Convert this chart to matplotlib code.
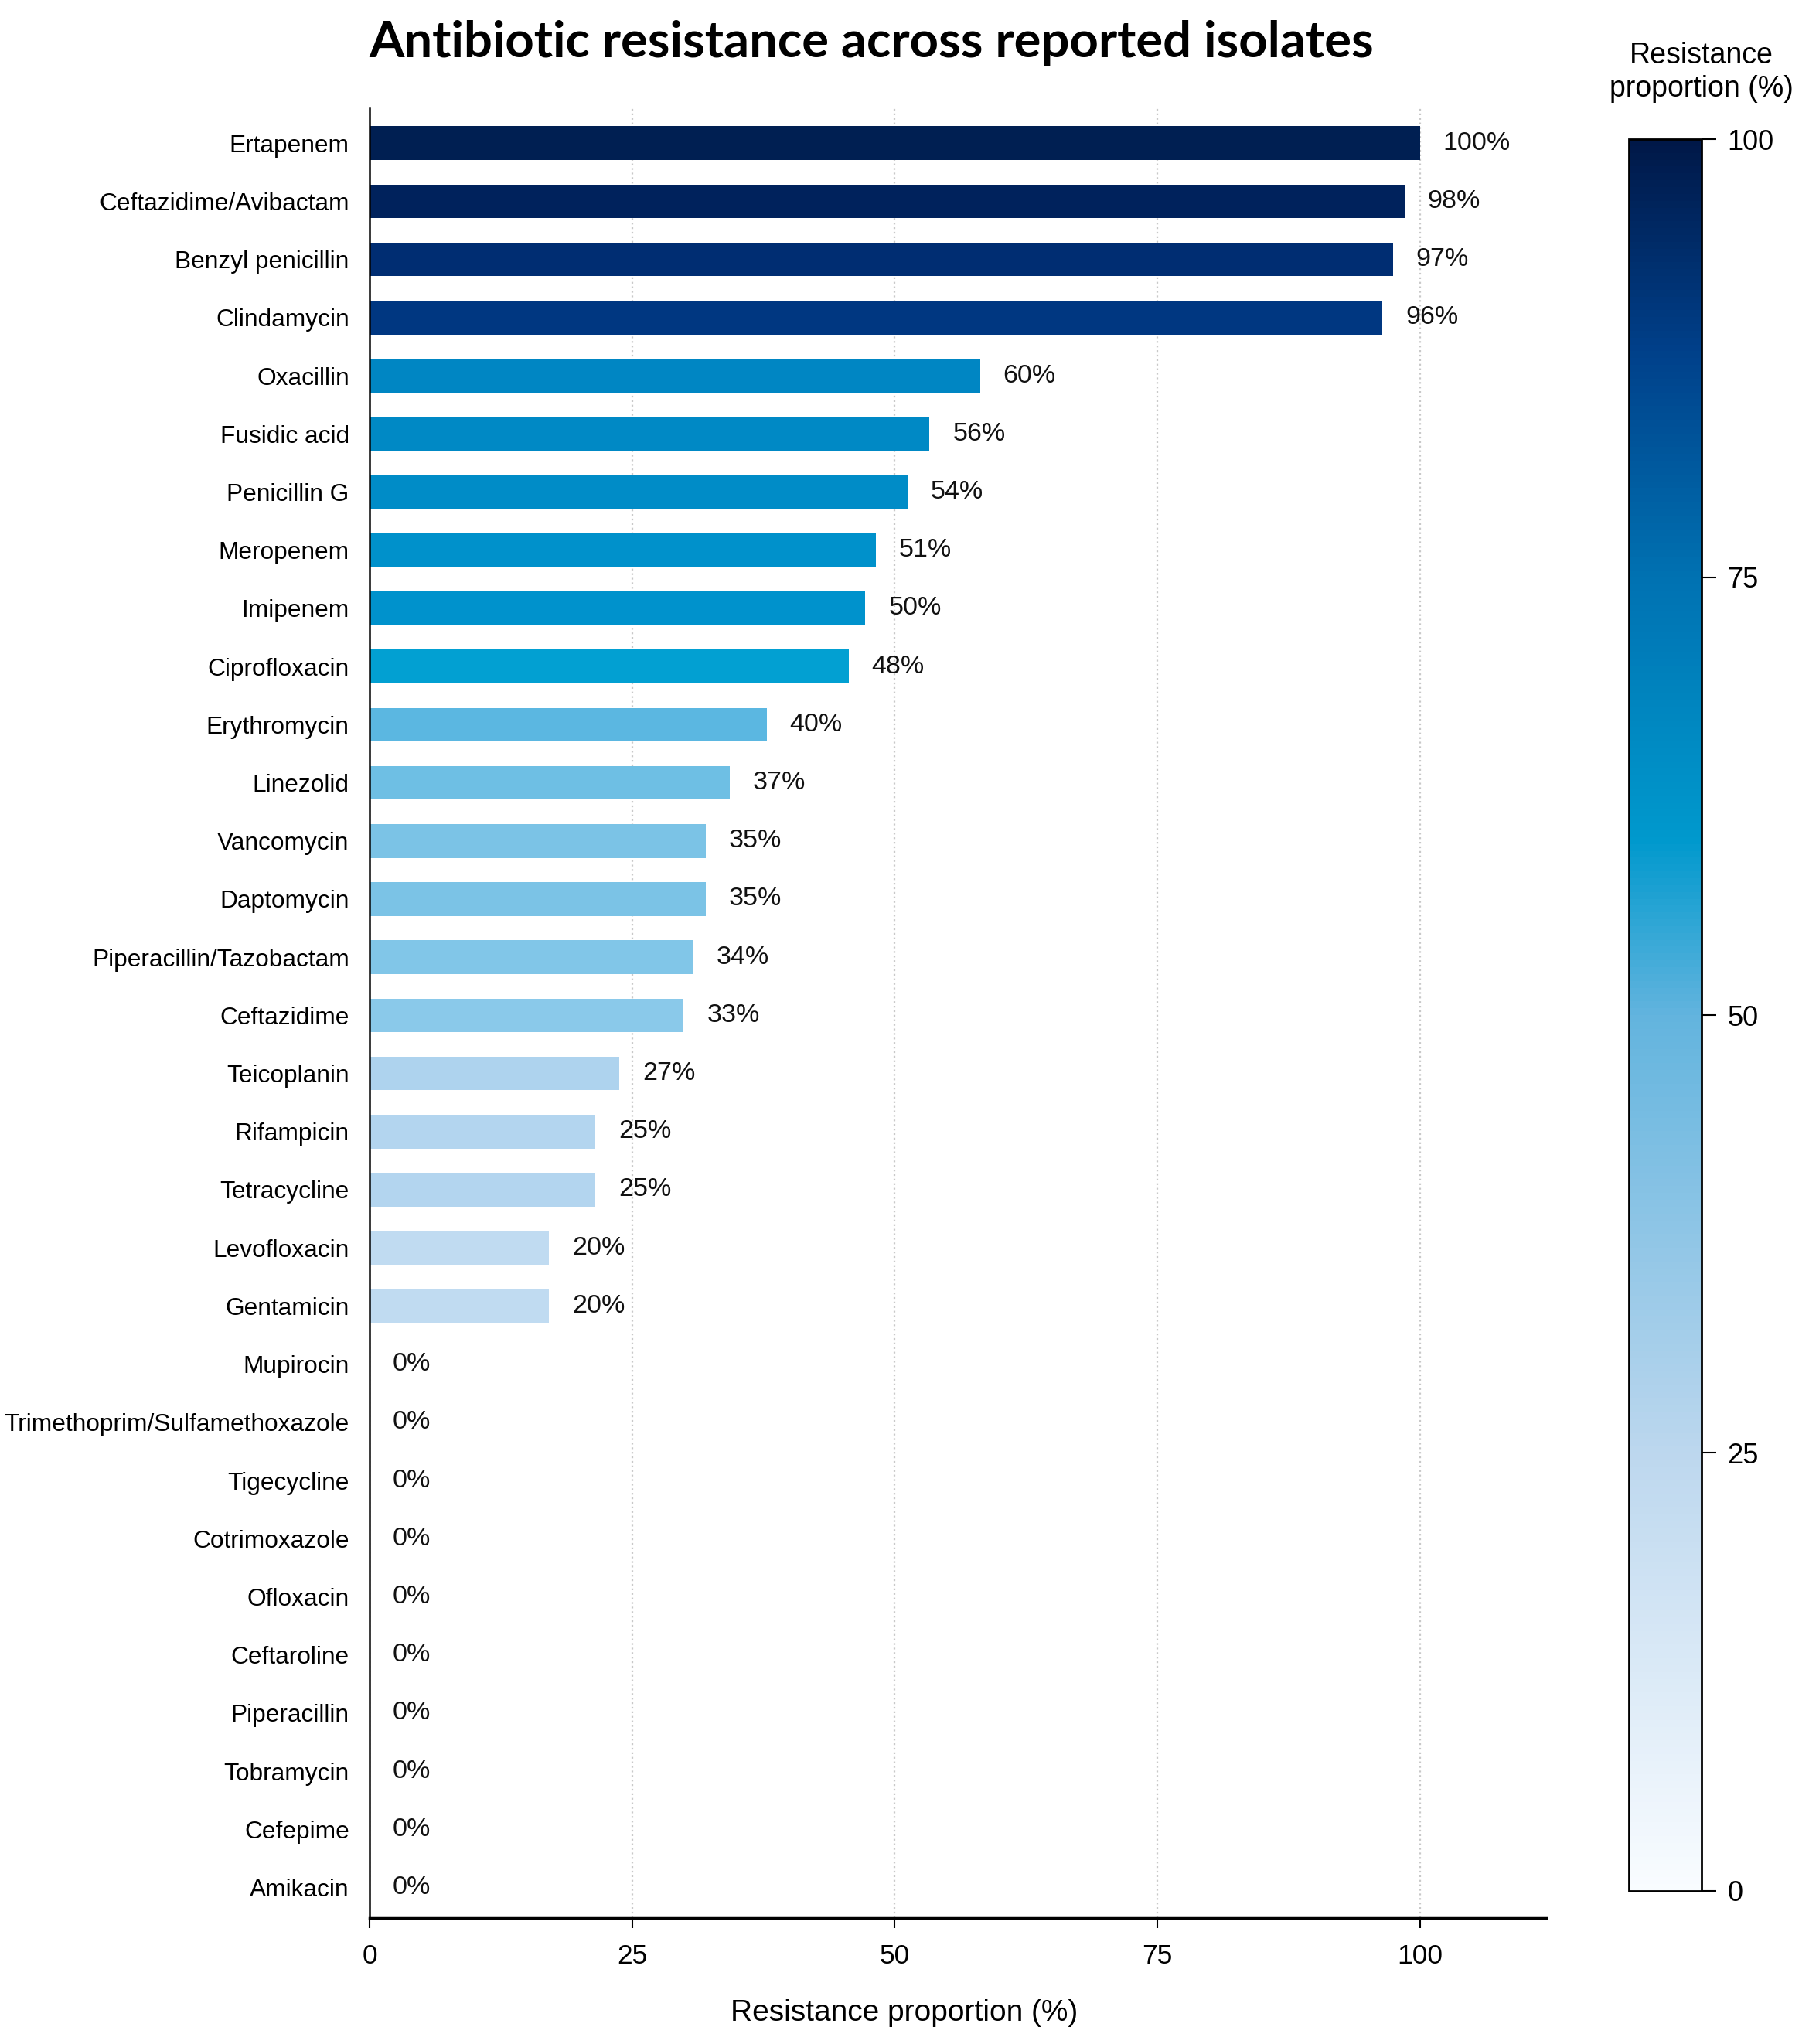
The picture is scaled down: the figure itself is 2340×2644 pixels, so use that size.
import matplotlib.pyplot as plt
import numpy as np
from matplotlib.colors import LinearSegmentedColormap, Normalize
from matplotlib.cm import ScalarMappable

# data (bar lengths differ slightly from printed labels)
antibiotics = ['Ertapenem', 'Ceftazidime/Avibactam', 'Benzyl penicillin', 'Clindamycin',
               'Oxacillin', 'Fusidic acid', 'Penicillin G', 'Meropenem', 'Imipenem',
               'Ciprofloxacin', 'Erythromycin', 'Linezolid', 'Vancomycin', 'Daptomycin',
               'Piperacillin/Tazobactam', 'Ceftazidime', 'Teicoplanin', 'Rifampicin',
               'Tetracycline', 'Levofloxacin', 'Gentamicin', 'Mupirocin',
               'Trimethoprim/Sulfamethoxazole', 'Tigecycline', 'Cotrimoxazole', 'Ofloxacin',
               'Ceftaroline', 'Piperacillin', 'Tobramycin', 'Cefepime', 'Amikacin']
bar_values = [100, 98.5, 97.4, 96.4, 58.1, 53.3, 51.2, 48.2, 47.2, 45.6, 37.8, 34.3,
              32.0, 32.0, 30.8, 29.9, 23.8, 21.5, 21.5, 17.1, 17.1,
              0, 0, 0, 0, 0, 0, 0, 0, 0, 0]
label_pct = [100, 98, 97, 96, 60, 56, 54, 51, 50, 48, 40, 37, 35, 35, 34, 33, 27, 25, 25,
             20, 20, 0, 0, 0, 0, 0, 0, 0, 0, 0, 0]
xticks = [0, 25, 50, 75, 100]
cbar_ticks = [0, 25, 50, 75, 100]

# colour scale shown in the colorbar
cbar_cmap = LinearSegmentedColormap.from_list('res', [
    (0.0, '#f9fcff'), (0.25, '#bcd7ee'), (0.5, '#62b4de'), (0.6, '#0099cd'),
    (0.75, '#0072b2'), (0.88, '#00408a'), (1.0, '#001848')])
# bars in the reference use a slightly shifted version of it
bar_cmap = LinearSegmentedColormap.from_list('bars', [
    (0.0, '#f7fbff'), (0.20, '#c0dbf1'), (0.25, '#b3d5ef'), (0.27, '#aed3ee'),
    (0.33, '#8ac9ea'), (0.35, '#7ac3e6'), (0.40, '#5bb7e1'), (0.48, '#00a0d2'),
    (0.50, '#0092cc'), (0.56, '#0089c5'), (0.60, '#0086c3'), (0.96, '#003882'),
    (0.97, '#00317a'), (0.98, '#00225c'), (1.0, '#001f52')])

plt.rcParams['font.family'] = ['Liberation Sans', 'DejaVu Sans']

fig = plt.figure(figsize=(23.4, 26.44), dpi=100)
ax = fig.add_axes([0.2043, 0.0618, 0.6504, 0.8852])

y = np.arange(len(antibiotics))
norm = Normalize(0, 100)
colors = [bar_cmap(norm(v)) for v in label_pct]
ax.barh(y, bar_values, height=0.58, color=colors, zorder=2)

for yi, bv, lp in zip(y, bar_values, label_pct):
    ax.text(bv + 2.2, yi, f'{lp}%', va='center', ha='left', fontsize=24.5, color='#111111')

ax.set_ylim(len(antibiotics) - 0.48, -0.6)
ax.set_xlim(0, 112)
ax.set_yticks(y)
ax.set_yticklabels(antibiotics, fontsize=22.8)
ax.set_xticks(xticks)
ax.set_xticklabels([str(t) for t in xticks], fontsize=25.5)
ax.tick_params(axis='y', length=0, pad=19)
ax.tick_params(axis='x', length=9, width=1.5, pad=15)
ax.xaxis.grid(True, linestyle=':', color='#c8c8c8', linewidth=1.6, zorder=0)
ax.set_axisbelow(True)
for s in ['top', 'right']:
    ax.spines[s].set_visible(False)
ax.spines['left'].set_linewidth(1.8)
ax.spines['bottom'].set_linewidth(2.5)
ax.set_xlabel('Resistance proportion (%)', fontsize=28)
ax.xaxis.set_label_coords(0.4546, -0.045)

fig.text(0.4816, 0.972, 'Antibiotic resistance across reported isolates',
         ha='center', va='baseline', fontsize=47, fontweight='bold', family=['Lato', 'DejaVu Sans'])

# colorbar
cax = fig.add_axes([0.9004, 0.0749, 0.0402, 0.857])
sm = ScalarMappable(norm=norm, cmap=cbar_cmap)
cb = fig.colorbar(sm, cax=cax, ticks=cbar_ticks)
cb.outline.set_linewidth(2)
cax.tick_params(length=14, width=1.5, labelsize=26, pad=10)
fig.text(0.9406, 0.9645, 'Resistance\nproportion (%)', ha='center', va='center',
         fontsize=27, linespacing=1.25)

fig.savefig('out.png', dpi=100)
